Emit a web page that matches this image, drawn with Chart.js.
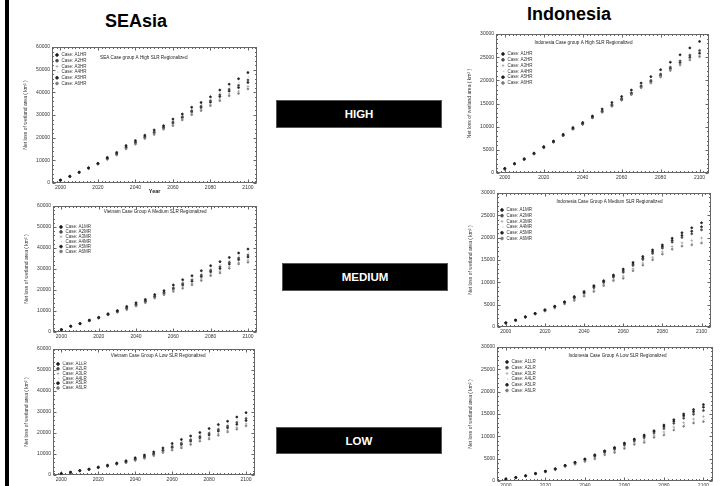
<!DOCTYPE html>
<html>
<head>
<meta charset="utf-8">
<script src="https://cdn.jsdelivr.net/npm/chart.js@4.4.1/dist/chart.umd.min.js"></script>
<style>
  html, body { margin:0; padding:0; background:#fff; width:724px; height:486px; overflow:hidden; position:relative;
    font-family:"Liberation Sans", Arial, sans-serif; }
  .edge { position:absolute; left:5px; top:0; width:4px; height:486px; background:#000; }
  .region { position:absolute; font-weight:bold; font-size:18px; line-height:22px; height:22px; text-align:center; color:#000; }
  .band { position:absolute; background:#000; color:#fff; font-weight:bold; font-size:11.5px; display:flex;
    align-items:center; justify-content:center; box-sizing:border-box; border:1px solid #555; }
  canvas { position:absolute; }
</style>
</head>
<body>
<div class="edge"></div>
<div class="region" style="left:86px; top:10px; width:100px;">SEAsia</div>
<div class="region" style="left:519px; top:3px; width:100px;">Indonesia</div>
<div class="band" style="left:276px; top:100px; width:166px; height:28px;">HIGH</div>
<div class="band" style="left:282px; top:263px; width:166px; height:28px;">MEDIUM</div>
<div class="band" style="left:276px; top:427px; width:166px; height:27px;">LOW</div>

<script>
// Years of the regionalized runs and axis tick values
const years = [2000,2005,2010,2015,2020,2025,2030,2035,2040,2045,2050,2055,2060,2065,2070,2075,2080,2085,2090,2095,2100];
const yearTicks = [2000, 2020, 2040, 2060, 2080, 2100];
const seaTicks = [0, 10000, 20000, 30000, 40000, 50000, 60000];
const idnTicks = [0, 5000, 10000, 15000, 20000, 25000, 30000];
const caseIds = ['A1', 'A2', 'A3', 'A4', 'A5', 'A6'];
const yTitle = 'Net loss of wetland area ( km\u00B2 )';

// Net loss of wetland area (km²), one row per case A1..A6
const seaHigh = [
  [1300,3000,4800,6700,8700,11300,13500,16500,18700,21100,23400,25300,28200,30400,33400,35500,38000,41000,43600,46000,48700],
  [1210,2910,4710,6570,8520,10900,12960,15830,17980,20430,22500,24580,26900,29230,31920,33880,36250,38890,41310,43080,45460],
  [1130,2830,4630,6450,8360,10540,12480,15230,17340,19830,21700,23940,25740,28190,30600,32440,34690,37010,39270,40480,42580],
  [1250,2950,4750,6630,8600,11080,13200,16130,18300,20730,22900,24900,27480,29750,32580,34600,37030,39830,42330,44380,46900],
  [1180,2880,4680,6520,8460,10760,12780,15600,17740,20200,22200,24340,26460,28840,31420,33340,35660,38180,40540,42100,44380],
  [1100,2800,4600,6400,8300,10400,12300,15000,17100,19600,21400,23700,25300,27800,30100,31900,34100,36300,38500,39500,41500]
];
const seaMedium = [
  [1200,2800,4050,5650,7000,8700,10200,12200,13900,15500,17800,19700,22400,24900,26800,29200,31600,33500,35500,37600,39500],
  [1110,2710,3960,5520,6820,8430,9840,11480,13180,14780,17040,18800,21010,23060,24820,27090,29440,31070,33160,35260,36670],
  [1030,2630,3880,5400,6660,8190,9520,10840,12540,14140,16360,18000,19770,21420,23060,25210,27520,28910,31080,33180,34150],
  [1150,2750,4000,5580,6900,8550,10000,11800,13500,15100,17380,19200,21630,23880,25700,28030,30400,32150,34200,36300,37930],
  [1080,2680,3930,5470,6760,8340,9720,11240,12940,14540,16780,18500,20540,22440,24160,26380,28720,30260,32380,34480,35720],
  [1000,2600,3850,5350,6600,8100,9400,10600,12300,13900,16100,17700,19300,20800,22400,24500,26800,28100,30300,32400,33200]
];
const seaLow = [
  [700,1350,2150,2850,3800,4700,5700,6800,8200,9500,11000,12900,15000,16900,18600,20200,22100,24000,25600,27600,29700],
  [610,1260,2060,2720,3620,4430,5430,6350,7620,8780,10190,11910,13560,15100,16760,18360,19850,21710,23310,24990,26870],
  [530,1180,1980,2600,3460,4190,5190,5950,7100,8140,9470,11030,12280,13500,15120,16720,17850,19670,21270,22670,24350],
  [650,1300,2100,2780,3700,4550,5550,6550,7880,9100,10550,12350,14200,15900,17580,19180,20850,22730,24330,26150,28130],
  [580,1230,2030,2670,3560,4340,5340,6200,7420,8540,9920,11580,13080,14500,16140,17740,19100,20940,22540,24120,25920],
  [500,1150,1950,2550,3400,4100,5100,5800,6900,7900,9200,10700,11800,12900,14500,16100,17100,18900,20500,21800,23400]
];
const idnHigh = [
  [1000,2050,3100,4300,5700,6900,8350,9800,10900,12300,13800,15200,16500,17900,19400,20800,22300,23900,25500,27000,28400],
  [910,1990,2980,4180,5550,6750,8170,9590,10660,12060,13380,14720,16020,17300,18800,19960,21340,22820,24180,25440,26420],
  [870,1960,2920,4120,5480,6680,8080,9490,10540,11940,13170,14480,15780,17000,18500,19540,20860,22280,23520,24660,25430],
  [920,2000,2990,4190,5560,6760,8190,9610,10680,12080,13420,14760,16060,17350,18850,20030,21420,22910,24290,25570,26590],
  [880,1970,2940,4140,5510,6710,8120,9530,10590,11990,13250,14580,15880,17120,18620,19710,21050,22500,23780,24970,25830],
  [850,1950,2900,4100,5450,6650,8050,9450,10500,11900,13100,14400,15700,16900,18400,19400,20700,22100,23300,24400,25100]
];
const idnMedium = [
  [950,1550,2300,3050,3850,4650,5650,6810,7930,9260,10370,11630,12960,14440,15780,17260,18370,19850,21110,22200,23330],
  [920,1500,2250,2990,3750,4510,5480,6500,7570,8800,9980,11190,12240,13790,15110,16480,17650,19000,20060,20870,21750],
  [880,1450,2190,2920,3630,4350,5280,6150,7150,8260,9540,10690,11410,13050,14330,15600,16820,18020,18850,19350,19930],
  [860,1430,2170,2890,3580,4290,5200,6020,6990,8060,9370,10500,11100,12780,14040,15260,16510,17650,18400,18780,19250],
  [930,1520,2270,3010,3790,4570,5550,6630,7720,8990,10150,11380,12550,14070,15390,16820,17960,19360,20510,21440,22420],
  [850,1420,2150,2870,3550,4250,5150,5930,6890,7930,9260,10370,10890,12590,13850,15040,16300,17410,18100,18400,18800]
];
const idnLow = [
  [450,800,1200,1700,2200,2750,3500,4200,4950,5850,6750,7500,8480,9380,10280,11250,12530,13730,15000,15980,17100],
  [420,770,1150,1650,2130,2660,3410,4040,4740,5540,6440,7110,8060,8960,9700,10730,11740,12920,14030,14930,15770],
  [380,730,1100,1600,2060,2580,3330,3890,4530,5220,6120,6720,7640,8540,9130,10200,10960,12100,13060,13880,14440],
  [370,720,1070,1570,2030,2540,3290,3820,4440,5090,5990,6550,7460,8360,8880,9980,10620,11750,12650,13430,13870],
  [440,790,1180,1680,2170,2710,3460,4130,4860,5720,6620,7330,8300,9200,10030,11030,12190,13380,14590,15530,16530],
  [350,700,1050,1550,2000,2500,3250,3750,4350,4950,5850,6380,7280,8180,8630,9750,10280,11400,12230,12980,13300]
];

// Marker look for each case
const caseLook = [
  { pointStyle: 'circle', color: '#1e1e1e', r: 1.0 },
  { pointStyle: 'circle', color: '#4a4a4a', r: 1.0 },
  { pointStyle: 'cross',  color: '#9a9a9a', r: 1.3 },
  { pointStyle: 'dash',   color: '#aaaaaa', r: 1.3 },
  { pointStyle: 'circle', color: '#222222', r: 1.0 },
  { pointStyle: 'circle', color: '#7a7a7a', r: 0.9 }
];

const FONT = '"Liberation Sans", Arial, sans-serif';
Chart.defaults.font.family = FONT;

// Plot box of each panel on the page: [left, top, right, bottom]
const panels = [
  { rows: seaHigh,   tag: 'HR', title: 'SEA Case group A High SLR Regionalized',          ticks: seaTicks, max: 60000, minor: 2000,
    box: [52, 46, 260, 183],  xH: 15, xTitle: 'Year', tx: 0.447, ty: 11, lx: 5,  ly: 8,  lp: 1.2 },
  { rows: seaMedium, tag: 'MR', title: 'Vietnam Case Group A Medium SLR Regionalized',    ticks: seaTicks, max: 60000, minor: 2000,
    box: [53, 205, 260, 332], xH: 9,  xTitle: '',     tx: 0.5,   ty: 6,  lx: 8,  ly: 21, lp: 0.4 },
  { rows: seaLow,    tag: 'LR', title: 'Vietnam Case Group A Low SLR Regionalized',       ticks: seaTicks, max: 60000, minor: 2000,
    box: [53, 348, 258, 475], xH: 9,  xTitle: '',     tx: 0.52,  ty: 7,  lx: 5,  ly: 15, lp: 0.3 },
  { rows: idnHigh,   tag: 'HR', title: 'Indonesia Case group A High SLR Regionalized',    ticks: idnTicks, max: 30000, minor: 1000,
    box: [496, 33, 712, 173], xH: 9,  xTitle: '',     tx: 0.41,  ty: 9,  lx: 7,  ly: 20, lp: 1.3 },
  { rows: idnMedium, tag: 'MR', title: 'Indonesia Case Group A Medium SLR Regionalized',  ticks: idnTicks, max: 30000, minor: 1000,
    box: [497, 192, 714, 327], xH: 9, xTitle: '',     tx: 0.525, ty: 9,  lx: 5,  ly: 17, lp: 1.2 },
  { rows: idnLow,    tag: 'LR', title: 'Indonesia Case Group A Low SLR Regionalized',     ticks: idnTicks, max: 30000, minor: 1000,
    box: [497, 346, 716, 481], xH: 9, xTitle: '',     tx: 0.557, ty: 9,  lx: 10, ly: 15, lp: 1.2 }
];

const Y_AXIS_W = 30, PAD_TOP = 4, PAD_RIGHT = 2;
const LEG_FONT = 4.5;

// Plot frame with small inward tick marks on all four sides
const framePlugin = {
  id: 'frame',
  beforeDatasetsDraw(chart, args, opts) {
    const { ctx, chartArea: a, scales: { x, y } } = chart;
    ctx.save();
    ctx.strokeStyle = '#666';
    ctx.lineWidth = 1;
    const L = Math.round(a.left) + 0.5, T = Math.round(a.top) + 0.5;
    const R = Math.round(a.right) - 0.5, B = Math.round(a.bottom) - 0.5;
    ctx.strokeRect(L, T, R - L, B - T);
    ctx.beginPath();
    for (let v = Math.ceil(x.min / 2) * 2; v <= x.max; v += 2) {
      const px = Math.round(x.getPixelForValue(v)) + 0.5;
      const len = v % 20 === 0 ? 3 : 1.5;
      ctx.moveTo(px, B); ctx.lineTo(px, B - len);
      ctx.moveTo(px, T); ctx.lineTo(px, T + len);
    }
    for (let v = 0; v <= y.max; v += opts.minor) {
      const py = Math.round(y.getPixelForValue(v)) + 0.5;
      const len = opts.major.includes(v) ? 3 : 1.5;
      ctx.moveTo(L, py); ctx.lineTo(L + len, py);
      ctx.moveTo(R, py); ctx.lineTo(R - len, py);
    }
    ctx.stroke();
    ctx.restore();
  }
};

// Heading written inside the plot box
const innerTitlePlugin = {
  id: 'innerTitle',
  afterDraw(chart, args, opts) {
    const { ctx, chartArea: a } = chart;
    ctx.save();
    ctx.font = '4.6px ' + FONT;
    ctx.fillStyle = '#222';
    ctx.textAlign = 'center';
    ctx.textBaseline = 'middle';
    ctx.fillText(opts.text, a.left + opts.fx * a.width, a.top + opts.dy);
    ctx.restore();
  }
};

// Moves the in-plot legend to its spot in the upper-left corner
const legendSpotPlugin = {
  id: 'legendSpot',
  afterLayout(chart, args, opts) {
    const lg = chart.legend;
    if (!lg) return;
    const a = chart.chartArea;
    const w = lg.width, h = lg.height;
    const boxW = LEG_FONT;
    lg.left = a.left + opts.dx - opts.pad - boxW / 2;
    lg.top = a.top + opts.dy - opts.pad - LEG_FONT / 2;
    lg.right = lg.left + w;
    lg.bottom = lg.top + h;
  }
};

panels.forEach(p => {
  const [L, T, R, B] = p.box;
  const canvas = document.createElement('canvas');
  const cw = R - L + Y_AXIS_W + PAD_RIGHT;
  const ch = B - T + PAD_TOP + p.xH;
  canvas.width = cw; canvas.height = ch;
  canvas.style.left = (L - Y_AXIS_W) + 'px';
  canvas.style.top = (T - PAD_TOP) + 'px';
  canvas.style.width = cw + 'px';
  canvas.style.height = ch + 'px';
  document.body.appendChild(canvas);

  const datasets = p.rows.map((row, i) => ({
    label: 'Case: ' + caseIds[i] + p.tag,
    data: row.map((v, k) => ({ x: years[k], y: v })),
    showLine: false,
    pointStyle: caseLook[i].pointStyle,
    pointRadius: caseLook[i].r,
    pointBorderWidth: 0.7,
    backgroundColor: caseLook[i].color,
    borderColor: caseLook[i].color
  }));

  new Chart(canvas, {
    type: 'scatter',
    data: { datasets },
    plugins: [framePlugin, innerTitlePlugin, legendSpotPlugin],
    options: {
      responsive: false,
      devicePixelRatio: 1,
      animation: false,
      events: [],
      layout: { padding: { top: PAD_TOP, right: PAD_RIGHT, left: 0, bottom: 0 } },
      scales: {
        x: {
          type: 'linear', min: 1995.5, max: 2105,
          grid: { display: false, drawTicks: false },
          border: { display: false },
          ticks: { font: { size: 5 }, color: '#333', padding: 2, maxRotation: 0, autoSkip: false,
                   callback: v => String(v) },
          afterBuildTicks: s => { s.ticks = yearTicks.map(v => ({ value: v })); },
          afterFit: s => { s.height = p.xH; },
          title: { display: !!p.xTitle, text: p.xTitle, color: '#222',
                   font: { size: 5.5, weight: 'bold' }, padding: { top: 0, bottom: 3 } }
        },
        y: {
          type: 'linear', min: 0, max: p.max,
          grid: { display: false, drawTicks: false },
          border: { display: false },
          ticks: { font: { size: 5 }, color: '#333', padding: 2, callback: v => String(v) },
          afterBuildTicks: s => { s.ticks = p.ticks.map(v => ({ value: v })); },
          afterFit: s => { s.width = Y_AXIS_W; },
          title: { display: true, text: yTitle, color: '#333',
                   font: { size: 5 }, padding: { top: 1, bottom: 0 } }
        }
      },
      plugins: {
        tooltip: { enabled: false },
        title: { display: false },
        legend: {
          display: true,
          position: 'chartArea',
          align: 'start',
          labels: {
            usePointStyle: true,
            boxHeight: 2,
            boxWidth: LEG_FONT,
            padding: p.lp,
            color: '#333',
            font: { size: LEG_FONT, lineHeight: 1 }
          }
        },
        frame: { minor: p.minor, major: p.ticks },
        innerTitle: { text: p.title, fx: p.tx, dy: p.ty },
        legendSpot: { dx: p.lx, dy: p.ly, pad: p.lp }
      }
    }
  });
});
</script>
</body>
</html>
